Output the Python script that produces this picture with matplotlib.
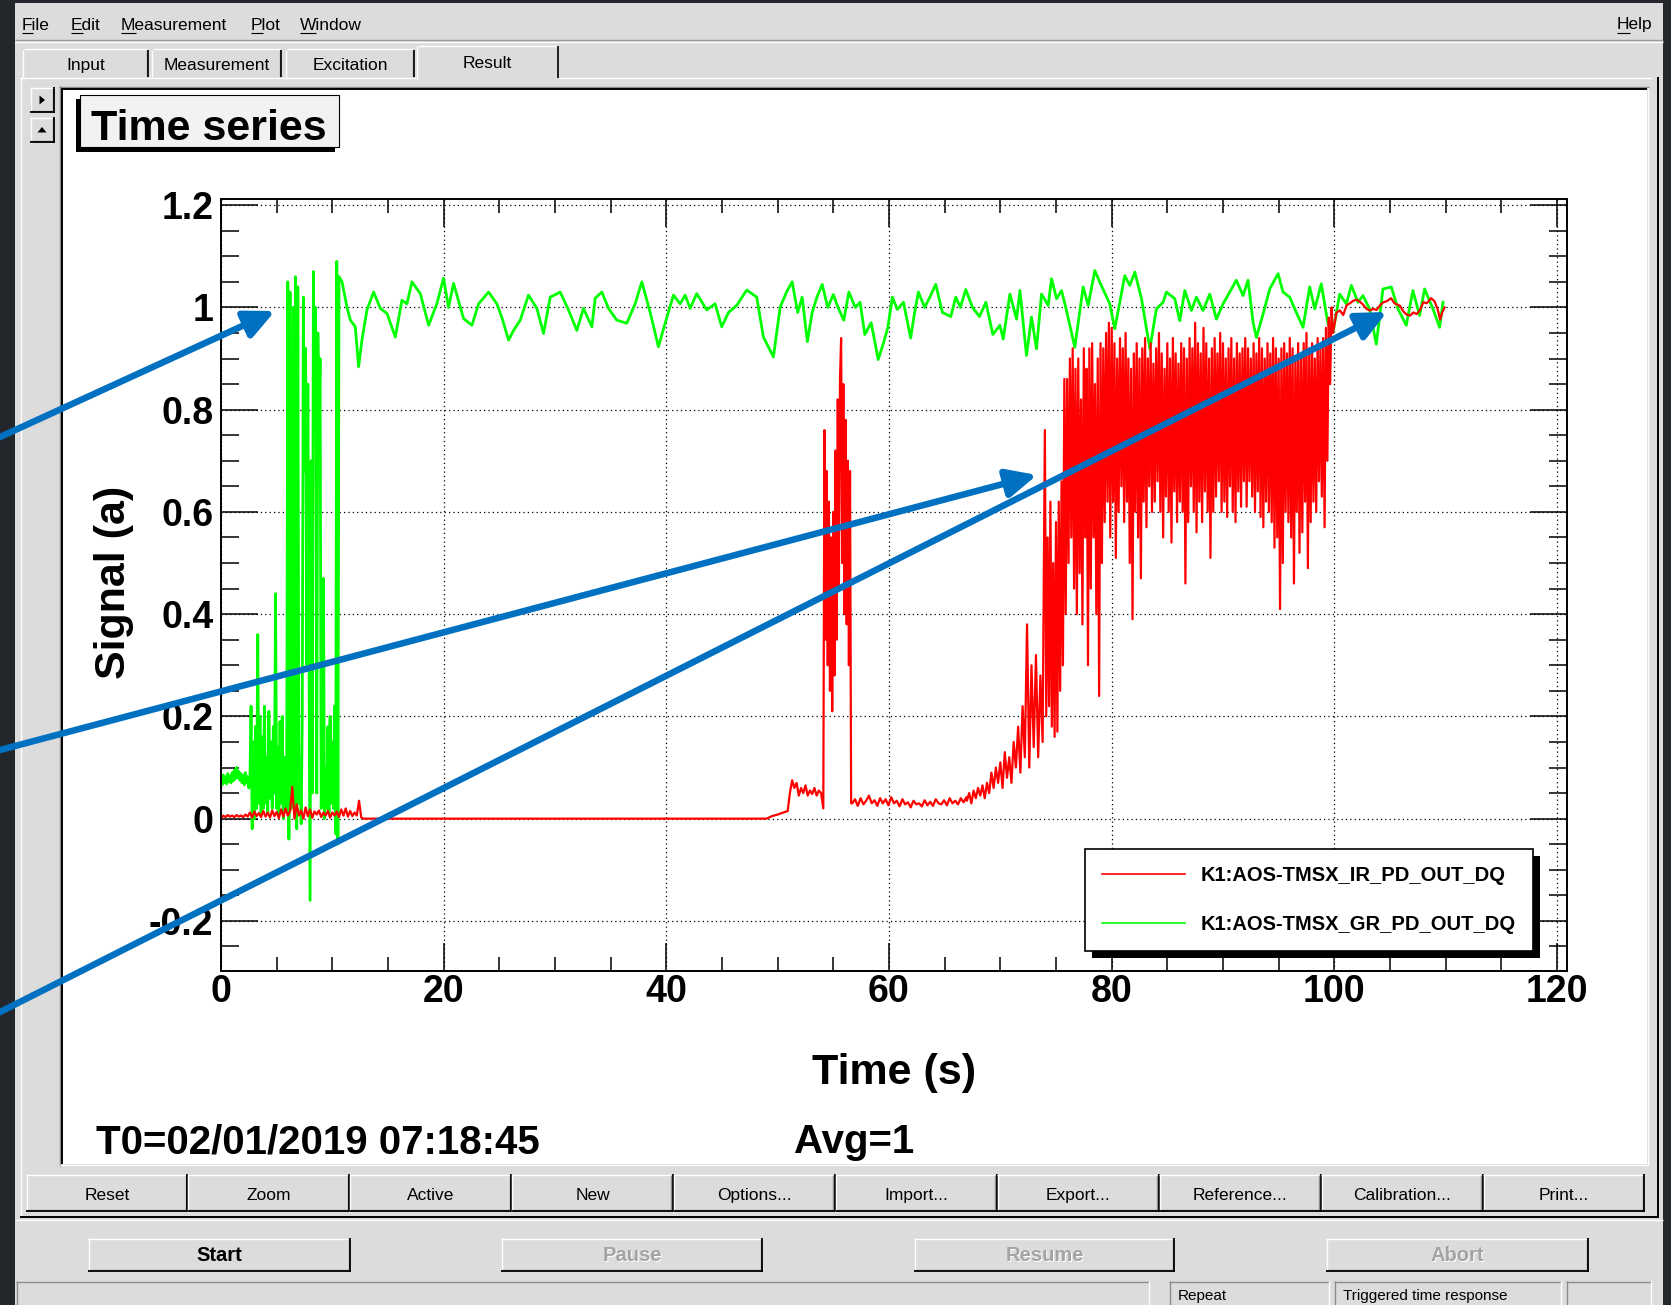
import numpy as np
import matplotlib.pyplot as plt
from matplotlib.patches import Rectangle, Polygon, FancyArrowPatch
from matplotlib.transforms import IdentityTransform

plt.rcParams['font.family'] = ['Liberation Sans', 'DejaVu Sans']

# ------------------------------------------------------------------
# values: time (s) vs signal (a)
# ------------------------------------------------------------------

# K1:AOS-TMSX_IR_PD_OUT_DQ (red)
# 0 - 12.6 s, every 0.2 s: sitting on zero
ir_quiet_t0, ir_quiet_dt = 0.0, 0.2
ir_quiet = [0.0, 0.006, 0.003, 0.007, 0.004, 0.006, 0.003, 0.007, 0.004, 0.006,
            0.003, 0.008, 0.004, 0.012, 0.002, 0.014, 0.005, 0.011, 0.003, 0.015,
            0.004, 0.012, 0.002, 0.016, 0.005, 0.013, 0.001, 0.018, 0.004, 0.02,
            0.006, 0.014, 0.062, 0.0, 0.028, 0.006, 0.016, 0.0, 0.022, 0.005,
            0.018, 0.002, 0.014, 0.008, 0.016, 0.003, 0.012, 0.006, 0.015, 0.002,
            0.012, 0.006, 0.014, 0.003, 0.018, 0.006, 0.02, 0.004, 0.015, 0.005,
            0.012, 0.006, 0.035, 0.002]
# flat until ~49 s, then creeping up
ir_flat_t = [12.8, 49.0, 49.5, 50.0, 50.5, 50.9]
ir_flat = [0.0, 0.0, 0.005, 0.008, 0.012, 0.015]
# 51 - 54 s, every 0.2 s: first small step
ir_step_t0, ir_step_dt = 51.1, 0.2
ir_step = [0.05, 0.075, 0.06, 0.07, 0.045, 0.06, 0.05, 0.065, 0.045, 0.055,
           0.048, 0.06, 0.045, 0.055, 0.05]
# 54 - 56.6 s, every 0.1 s: first flash
ir_flash_t0, ir_flash_dt = 54.1, 0.1
ir_flash = [0.02, 0.76, 0.35, 0.68, 0.30, 0.62, 0.25, 0.55, 0.21, 0.60,
            0.28, 0.72, 0.35, 0.82, 0.45, 0.86, 0.94, 0.50, 0.85, 0.40,
            0.78, 0.38, 0.70, 0.30, 0.68, 0.03]
# 56.7 - 67 s, every 0.25 s
ir_low_t0, ir_low_dt = 56.7, 0.25
ir_low = [0.03, 0.038, 0.025, 0.04, 0.028, 0.035, 0.045, 0.03, 0.036, 0.025,
          0.04, 0.03, 0.038, 0.026, 0.042, 0.03, 0.035, 0.024, 0.038, 0.028,
          0.032, 0.022, 0.035, 0.028, 0.03, 0.024, 0.036, 0.026, 0.033, 0.025,
          0.038, 0.03, 0.028, 0.036, 0.026, 0.04, 0.03, 0.035, 0.028, 0.04,
          0.032, 0.042]
# 67 - 74 s, every 0.2 s: slow rise
ir_rise_t0, ir_rise_dt = 67.0, 0.2
ir_rise = [0.035, 0.05, 0.03, 0.055, 0.04, 0.06, 0.045, 0.065, 0.04, 0.07,
           0.05, 0.09, 0.06, 0.10, 0.07, 0.11, 0.06, 0.13, 0.08, 0.12,
           0.07, 0.15, 0.10, 0.18, 0.09, 0.22, 0.12, 0.38, 0.10, 0.30,
           0.14, 0.32, 0.12, 0.28, 0.15]
# 74 - 100 s: upper / lower edge of the fringing band, every 0.25 s
ir_band_t0, ir_band_dt = 74.0, 0.25
ir_band_hi = [0.76, 0.55, 0.62, 0.50, 0.58, 0.62, 0.66, 0.86, 0.86, 0.90, 0.92, 0.88,
              0.90, 0.82, 0.92, 0.88, 0.92, 0.93, 0.85, 0.90, 0.93, 0.92, 0.95, 0.97,
              0.96, 0.93, 0.90, 0.94, 0.92, 0.95, 0.90, 0.88, 0.91, 0.93, 0.90, 0.92,
              0.94, 0.90, 0.93, 0.89, 0.92, 0.95, 0.91, 0.88, 0.93, 0.90, 0.94, 0.91,
              0.89, 0.93, 0.92, 0.90, 0.94, 0.92, 0.97, 0.93, 0.91, 0.96, 0.93, 0.90,
              0.92, 0.94, 0.91, 0.95, 0.93, 0.90, 0.92, 0.94, 0.90, 0.93, 0.91, 0.92,
              0.94, 0.92, 0.90, 0.93, 0.91, 0.94, 0.92, 0.90, 0.93, 0.91, 0.94, 0.92,
              0.90, 0.92, 0.93, 0.91, 0.94, 0.92, 0.90, 0.93, 0.91, 0.93, 0.95, 0.92,
              0.93, 0.90, 0.94, 0.92, 0.94, 0.96, 0.98, 1.00]
ir_band_lo = [0.20, 0.22, 0.18, 0.16, 0.17, 0.25, 0.30, 0.40, 0.50, 0.55, 0.45, 0.40,
              0.48, 0.38, 0.55, 0.30, 0.45, 0.55, 0.40, 0.24, 0.50, 0.58, 0.62, 0.55,
              0.62, 0.51, 0.60, 0.65, 0.58, 0.62, 0.50, 0.39, 0.60, 0.55, 0.47, 0.62,
              0.57, 0.65, 0.60, 0.62, 0.66, 0.60, 0.55, 0.63, 0.60, 0.54, 0.64, 0.58,
              0.62, 0.60, 0.46, 0.58, 0.65, 0.60, 0.56, 0.62, 0.58, 0.64, 0.60, 0.51,
              0.60, 0.63, 0.66, 0.60, 0.62, 0.59, 0.65, 0.60, 0.58, 0.64, 0.61, 0.66,
              0.61, 0.66, 0.63, 0.60, 0.64, 0.59, 0.57, 0.62, 0.60, 0.58, 0.53, 0.55,
              0.41, 0.50, 0.60, 0.58, 0.55, 0.46, 0.60, 0.52, 0.56, 0.62, 0.49, 0.58,
              0.62, 0.60, 0.66, 0.63, 0.57, 0.70, 0.85, 0.95]
# 100 - 110 s: locked
ir_lock_t = [100.2, 100.5, 100.8, 101.1, 101.4, 101.7, 102.0, 102.3, 102.6, 102.9,
             103.2, 103.5, 103.8, 104.1, 104.4, 104.7, 105.1, 105.4, 105.9, 106.2,
             106.5, 106.8, 107.1, 107.4, 107.7, 108.0, 108.3, 108.7, 109.0, 109.3,
             109.5, 109.7, 109.9]
ir_lock = [0.99, 0.994, 0.985, 1.004, 1.008, 1.013, 1.015, 1.011, 1.005, 0.997,
           0.994, 0.997, 0.995, 1.004, 1.01, 1.012, 1.018, 1.008, 1.003, 0.992,
           0.986, 0.984, 0.99, 0.987, 0.995, 1.01, 1.008, 1.018, 1.012, 0.995,
           0.976, 0.99, 1.0]

# K1:AOS-TMSX_GR_PD_OUT_DQ (green)
gr_start_t0, gr_start_dt = 0.0, 0.1
gr_start = [0.08, 0.066, 0.085, 0.07, 0.082, 0.068, 0.088, 0.072, 0.084, 0.07,
            0.09, 0.074, 0.095, 0.078, 0.1, 0.08, 0.092, 0.075, 0.088, 0.07,
            0.085, 0.066, 0.09, 0.07, 0.082, 0.06]
# 2.6 - 10.6 s, every 0.1 s: lock acquisition flashes
gr_flash_t0, gr_flash_dt = 2.6, 0.1
gr_flash = [0.08, 0.22, -0.02, 0.15, 0.0, 0.18, 0.02, 0.36, 0.03, 0.2,
            0.01, 0.16, 0.02, 0.22, 0.03, 0.12, 0.01, 0.21, 0.04, 0.15,
            0.02, 0.18, 0.05, 0.44, 0.02, 0.14, 0.01, 0.19, 0.03, 0.2,
            0.0, 0.12, 0.02, 0.06, 1.05, -0.04, 1.03, 0.02, 0.08, 1.0,
            0.01, 1.06, -0.02, 1.04, 0.03, 0.12, -0.01, 0.2, 1.02, 0.68,
            0.92, 0.3, 0.85, 0.35, -0.16, 0.7, 0.05, 1.07, 0.8, 1.0,
            0.05, 0.95, 0.78, 0.9, 0.02, 0.12, 0.47, 0.0, 0.1, 0.02,
            0.18, 0.01, 0.2, 0.03, 0.15, 0.02, 0.22, -0.03, 1.09, -0.05,
            1.06]
# 10.9 - 110 s: locked, wandering around 1
gr_lock_t = [10.87, 11.32, 11.62, 12.06, 12.36, 12.66, 13.11, 13.71, 14.31, 14.91,
             15.66, 16.25, 16.70, 17.15, 17.90, 18.65, 19.40, 19.99, 20.44, 20.89,
             21.79, 22.54, 23.14, 24.03, 24.78, 25.23, 25.83, 26.28, 26.88, 27.62,
             28.37, 28.97, 29.57, 30.47, 31.21, 31.96, 32.56, 33.31, 33.61, 34.21,
             34.81, 35.55, 36.45, 37.20, 37.80, 38.55, 39.29, 40.04, 40.64, 41.24,
             41.69, 42.14, 42.73, 43.63, 44.38, 44.98, 45.58, 46.33, 47.22, 48.12,
             48.72, 49.62, 50.22,
             50.8, 51.3, 51.8, 52.2, 52.67, 53.1, 53.53, 54.0, 54.5, 55.0,
             55.42, 55.94, 56.4, 56.97, 57.4, 57.83, 58.4, 59.03, 59.5, 59.89,
             60.3, 60.75, 61.3, 61.95, 62.3, 62.64, 63.2, 63.67, 64.2, 64.8,
             65.55, 66.0, 66.41, 66.9, 67.5, 68.13, 68.7, 69.33,
             69.96, 70.26, 70.86, 71.46, 71.76, 72.35, 72.80, 73.25, 73.70, 74.30,
             74.60, 75.05, 75.50, 75.94, 76.69, 77.44, 77.89, 78.49, 78.94, 79.83,
             80.28, 80.73, 81.18, 81.63, 82.08, 82.68, 83.43, 84.02, 84.62, 84.92,
             85.67, 86.12, 86.57, 87.17, 87.61, 88.21, 88.81, 89.41, 90.01, 90.61,
             91.20, 91.80, 92.25, 92.70, 93.00, 93.60, 94.20, 94.95, 95.39, 95.99,
             96.59, 97.19, 97.79, 98.24, 98.83, 99.43, 99.88, 100.48, 101.08, 101.53,
             102.13, 102.57, 103.17, 103.77, 104.37, 105.12, 105.72, 106.46, 107.06, 107.66,
             108.11, 108.86, 109.46, 109.76]
gr_lock = [1.05, 1.0, 0.975, 0.962, 0.884, 0.936, 0.995, 1.03, 0.998, 0.988,
           0.942, 1.014, 1.007, 1.05, 1.027, 0.965, 1.008, 1.057, 1.0, 1.047,
           0.978, 0.965, 1.007, 1.03, 1.007, 0.98, 0.936, 0.955, 0.975, 1.024,
           0.998, 0.949, 1.02, 1.03, 0.995, 0.955, 0.998, 0.962, 1.018, 1.03,
           0.998, 0.975, 0.969, 1.007, 1.05, 0.99, 0.923, 0.98, 1.024, 1.007,
           1.024, 0.998, 1.027, 0.995, 1.007, 0.962, 0.99, 1.004, 1.034, 1.02,
           0.942, 0.903, 1.0,
           1.03, 1.05, 0.99, 1.02, 0.933, 0.99, 1.02, 1.045, 1.0, 1.025,
           1.0, 0.975, 1.03, 1.0, 1.01, 0.947, 0.97, 0.898, 0.93, 0.96,
           1.02, 0.996, 1.01, 0.94, 0.99, 1.03, 1.0, 1.02, 1.045, 0.99,
           0.982, 1.02, 1.0, 1.035, 1.0, 0.982, 1.01, 0.947,
           0.965, 0.938, 1.026, 0.977, 1.033, 0.906, 0.981, 0.919, 1.026, 1.004,
           1.056, 1.017, 1.033, 0.994, 0.922, 1.04, 1.004, 1.072, 1.049, 1.007,
           0.958, 1.01, 1.062, 1.043, 1.069, 1.017, 0.919, 0.997, 1.01, 1.03,
           1.017, 0.974, 1.033, 0.994, 1.02, 0.994, 1.026, 0.977, 1.007, 1.03,
           1.053, 1.023, 1.053, 0.971, 0.941, 0.987, 1.036, 1.066, 1.03, 1.02,
           0.99, 0.961, 1.04, 0.997, 1.046, 0.968, 0.951, 1.026, 1.007, 1.043,
           1.01, 1.023, 0.997, 0.928, 1.036, 1.04, 0.997, 0.965, 1.033, 0.984,
           1.036, 0.997, 0.961, 1.01]

ir_name = 'K1:AOS-TMSX_IR_PD_OUT_DQ'
gr_name = 'K1:AOS-TMSX_GR_PD_OUT_DQ'


def sampled(t0, dt, vals):
    return t0 + dt * np.arange(len(vals)), np.asarray(vals, dtype=float)


def band(t0, dt, hi, lo):
    # alternate upper and lower edge so the trace fills the band
    v = np.empty(2 * len(hi))
    v[0::2] = hi
    v[1::2] = lo
    return t0 + dt / 2 * np.arange(len(v)), v


pieces = [sampled(ir_quiet_t0, ir_quiet_dt, ir_quiet),
          (np.array(ir_flat_t), np.array(ir_flat)),
          sampled(ir_step_t0, ir_step_dt, ir_step),
          sampled(ir_flash_t0, ir_flash_dt, ir_flash),
          sampled(ir_low_t0, ir_low_dt, ir_low),
          sampled(ir_rise_t0, ir_rise_dt, ir_rise),
          band(ir_band_t0, ir_band_dt, ir_band_hi, ir_band_lo),
          (np.array(ir_lock_t), np.array(ir_lock))]
ir_t = np.concatenate([p[0] for p in pieces])
ir_v = np.concatenate([p[1] for p in pieces])

pieces = [sampled(gr_start_t0, gr_start_dt, gr_start),
          sampled(gr_flash_t0, gr_flash_dt, gr_flash),
          (np.array(gr_lock_t), np.array(gr_lock))]
gr_t = np.concatenate([p[0] for p in pieces])
gr_v = np.concatenate([p[1] for p in pieces])

# ------------------------------------------------------------------
# window chrome (pixel coordinates, y down)
# ------------------------------------------------------------------
W, H = 1671, 1305
GRAY = '#dcdcdc'
fig = plt.figure(figsize=(W / 100, H / 100), dpi=100, facecolor='#23272b')
bg = fig.add_axes([0, 0, 1, 1])
bg.set_xlim(0, W)
bg.set_ylim(H, 0)
bg.axis('off')


def box(x0, y0, x1, y1, fc, ec='none', lw=0.0, z=1):
    bg.add_patch(Rectangle((x0, y0), x1 - x0, y1 - y0, facecolor=fc,
                           edgecolor=ec, linewidth=lw, zorder=z))


def hline(x0, x1, y, c, lw=1.0, z=2):
    bg.plot([x0, x1], [y, y], color=c, lw=lw, solid_capstyle='butt', zorder=z)


def vline(x, y0, y1, c, lw=1.0, z=2):
    bg.plot([x, x], [y0, y1], color=c, lw=lw, solid_capstyle='butt', zorder=z)


def raised(x0, y0, x1, y1):
    box(x0, y0, x1, y1, GRAY)
    hline(x0, x1, y0 + 0.5, 'white')
    vline(x0 + 0.5, y0, y1, 'white')
    hline(x0 + 1, x1 - 1.5, y1 - 2.2, '#8c8c8c')
    vline(x1 - 2.2, y0 + 1, y1 - 1.5, '#8c8c8c')
    hline(x0, x1, y1 - 0.6, 'black', 1.3)
    vline(x1 - 0.6, y0, y1, 'black', 1.3)


def sunken(x0, y0, x1, y1):
    box(x0, y0, x1, y1, GRAY)
    hline(x0, x1, y0 + 0.5, '#8c8c8c')
    vline(x0 + 0.5, y0, y1, '#8c8c8c')
    hline(x0, x1, y1 - 0.5, 'white')
    vline(x1 - 0.5, y0, y1, 'white')


def gui_text(x, y, s, size=12.5, weight='normal', color='black', ha='center'):
    bg.text(x, y, s, fontsize=size, fontweight=weight, color=color,
            ha=ha, va='baseline', zorder=5)


# main window
box(15, 3, 1663, H, GRAY)

# menu bar
menu = [('File', 22, 10.6), ('Edit', 71, 11.6), ('Measurement', 121, 14.5),
        ('Plot', 251, 11.6), ('Window', 300, 16.4), ('Help', 1617, 12.5)]
for s, x, ul in menu:
    gui_text(x, 29.5, s, ha='left')
    hline(x, x + ul, 32.5, 'black', 0.8)
hline(15, 1663, 40, '#9a9a9a')
hline(15, 1663, 42, 'white')

# tabs
for s, x0, x1 in [('Input', 22, 149), ('Measurement', 151, 282), ('Excitation', 285, 415)]:
    box(x0, 48, x1, 77, GRAY)
    hline(x0 + 2, x1 - 2, 48.5, 'white')
    vline(x0 + 0.5, 50, 77, 'white')
    vline(x1 - 2.2, 50, 77, '#8c8c8c')
    vline(x1 - 0.6, 50, 77, 'black', 1.2)
    gui_text((x0 + x1) / 2, 70, s)
hline(20, 416, 77.5, 'white')
hline(559, 1652, 77.5, 'white')
box(416, 45, 559, 79, GRAY, z=3)
hline(418, 557, 45.5, 'white', z=3)
vline(416.5, 46, 79, 'white', z=3)
vline(558.4, 46, 78, 'black', 1.2, z=3)
gui_text(487, 68, 'Result')
vline(20.5, 77, 1217, 'white')
vline(1657.5, 77, 1218, 'black', 1.4)
hline(20, 1658, 1217, 'black', 1.4)
hline(16, 1663, 1220, 'white')

# plot canvas
box(61, 88, 1647, 1164, 'white')
hline(59, 1649, 86.5, '#8c8c8c')
vline(59.5, 86, 1166, '#8c8c8c')
hline(61, 1647, 88.5, 'black', 1.4)
vline(61.5, 88, 1164, 'black', 1.4)
vline(1648, 88, 1165, 'white')
hline(60, 1648, 1165, 'white')

# small pad selector buttons
raised(30, 87, 55, 113)
raised(30, 117, 55, 143)
bg.add_patch(Polygon([(39.5, 95.5), (39.5, 104.5), (45, 100)], closed=True, fc='black', zorder=4))
bg.add_patch(Polygon([(37.5, 132.5), (46.5, 132.5), (42, 127)], closed=True, fc='black', zorder=4))

# title box with shadow
box(75.8, 99, 335, 151.7, 'black', z=2)
box(80, 95, 339, 147, '#f2f2f2', ec='black', lw=0.8, z=3)
bg.text(209, 140, 'Time series', fontsize=31, fontweight='bold', ha='center',
        va='baseline', zorder=5)

# footer texts on the canvas
bg.text(96, 1153, 'T0=02/01/2019 07:18:45', fontsize=29, fontweight='bold',
        ha='left', va='baseline', zorder=5)
bg.text(794, 1153, 'Avg=1', fontsize=29, fontweight='bold', ha='left',
        va='baseline', zorder=5)

# plot button row
buttons = ['Reset', 'Zoom', 'Active', 'New', 'Options...', 'Import...',
           'Export...', 'Reference...', 'Calibration...', 'Print...']
bw = 161.9
for i, s in enumerate(buttons):
    x0 = 26 + i * bw
    raised(x0, 1174, x0 + bw, 1212)
    gui_text(x0 + bw / 2, 1200, s)

# run control buttons
for s, x0, x1, enabled in [('Start', 88, 351, True), ('Pause', 501, 763, False),
                           ('Resume', 914, 1175, False), ('Abort', 1326, 1589, False)]:
    raised(x0, 1238, x1, 1272)
    cx = (x0 + x1) / 2
    if enabled:
        gui_text(cx, 1261, s, size=14.5, weight='bold')
    else:
        gui_text(cx + 1, 1262, s, size=14.5, weight='bold', color='white')
        gui_text(cx, 1261, s, size=14.5, weight='bold', color='#a4a4a4')

# status bar
for x0, x1, s in [(16, 1149, ''), (1169, 1329, 'Repeat'),
                  (1334, 1561, 'Triggered time response'), (1566, 1651, '')]:
    sunken(x0, 1281, x1, 1312)
    if s:
        gui_text(x0 + 9, 1300, s, size=11, ha='left')

# ------------------------------------------------------------------
# the time series plot
# ------------------------------------------------------------------
ax = fig.add_axes([221 / W, 1 - 971 / H, (1567 - 221) / W, (971 - 199) / H])
ax.set_facecolor('white')
gr_line, = ax.plot(gr_t, gr_v, color='#00ff00', lw=2.0, label=gr_name)
ir_line, = ax.plot(ir_t, ir_v, color='#ff0000', lw=1.6, label=ir_name)

ax.set_xlim(0, 120.9)
ax.set_ylim(-0.298, 1.212)
xt = np.arange(0, 121, 20)
yt = np.round(np.arange(-0.2, 1.21, 0.2), 1)
ax.set_xticks(xt, labels=[f'{v:g}' for v in xt], fontsize=27, fontweight='bold')
ax.set_yticks(yt, labels=[f'{v:g}' for v in yt], fontsize=27, fontweight='bold')
ax.set_xticks(np.arange(0, 121, 5), minor=True)
ax.set_yticks(np.arange(-0.25, 1.21, 0.05), minor=True)
ax.tick_params(which='both', direction='in', top=True, right=True, color='black')
ax.tick_params(axis='x', which='major', length=20, width=1.1, pad=2.5)
ax.tick_params(axis='x', which='minor', length=10, width=1.1)
ax.tick_params(axis='y', which='major', length=26.5, width=1.1, pad=5.5)
ax.tick_params(axis='y', which='minor', length=13, width=1.1)
for sp in ax.spines.values():
    sp.set_linewidth(1.4)
ax.grid(True, which='major', color='black', linestyle=(0, (1, 2.5)), linewidth=0.9)

ax.set_xlabel('Time (s)', fontsize=31, fontweight='bold')
ax.xaxis.label.set_va('baseline')
ax.xaxis.set_label_coords(0.5, -0.1464)
ax.set_ylabel('Signal (a)', fontsize=31, fontweight='bold')
ax.yaxis.label.set_va('baseline')
ax.yaxis.set_label_coords(-0.0713, 0.504)

leg = ax.legend(handles=[ir_line, gr_line], loc='upper left',
                bbox_to_anchor=((1085 - 221) / 1346, (971 - 849) / 772),
                prop={'weight': 'bold', 'size': 14.5}, frameon=True, fancybox=False,
                edgecolor='black', framealpha=1, borderpad=0.85, labelspacing=1.5,
                handlelength=4.1, handletextpad=0.8, borderaxespad=0)
leg.get_frame().set_linewidth(1.2)
for h in leg.get_lines():
    h.set_linewidth(1.2)

# legend drop shadow, like ROOT draws it
fig.canvas.draw()
bb = leg.get_window_extent()
shadow = Rectangle((bb.x0 + 7, bb.y0 - 7), bb.width, bb.height, facecolor='black',
                   edgecolor='none', transform=IdentityTransform(), zorder=4.9,
                   clip_on=False)
ax.add_artist(shadow)

# ------------------------------------------------------------------
# blue call-out arrows pasted on top of the screenshot
# ------------------------------------------------------------------
ov = fig.add_axes([0, 0, 1, 1], zorder=10)
ov.set_xlim(0, W)
ov.set_ylim(H, 0)
ov.axis('off')
ov.patch.set_alpha(0)
for (x0, y0), (x1, y1) in [((0, 437), (275, 311)), ((0, 750), (1037, 475)),
                           ((0, 1012), (1387, 312))]:
    slope = (y1 - y0) / (x1 - x0)
    start = (x0 - 20, y0 - 20 * slope)
    ov.add_patch(FancyArrowPatch(start, (x1, y1),
                                 arrowstyle='-|>,head_length=18,head_width=8.5',
                                 mutation_scale=1, lw=4.7, color='#0070c0',
                                 shrinkA=0, shrinkB=0))

fig.savefig('out.png', dpi=100, facecolor=fig.get_facecolor())
